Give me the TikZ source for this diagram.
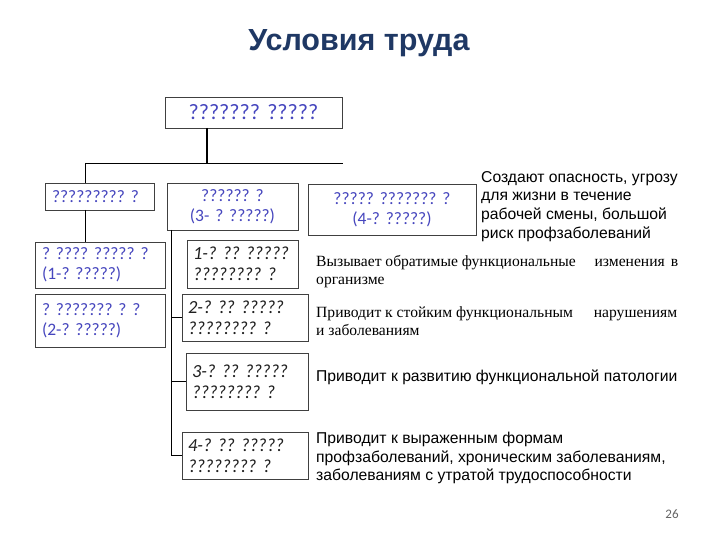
\documentclass[tikz,border=0pt]{standalone}
\usepackage{fontspec}
\setmainfont{Carlito}
\newfontfamily\arialf{Liberation Sans}
\newfontfamily\timesf{Liberation Serif}
\newfontfamily\calf{Carlito}
\definecolor{titleblue}{RGB}{31,56,100}
\definecolor{boxtext}{RGB}{70,70,190}
\definecolor{boxline}{RGB}{64,64,64}
\definecolor{pggray}{RGB}{100,100,100}
\frenchspacing
\begin{document}
\begin{tikzpicture}[x=1pt,y=-1pt,
  box/.style={draw=boxline, line width=0.9pt, anchor=north west, inner ysep=0pt, inner xsep=7pt, outer sep=0pt},
  bluebox/.style={box, text=boxtext, font=\calf\frenchspacing\fontsize{17.5}{20}\selectfont},
  classbox/.style={box, inner xsep=6pt, text=black!88, font=\calf\frenchspacing\itshape\fontsize{18.5}{21}\selectfont, align=left},
  conn/.style={draw=black, line width=0.9pt},
  thickconn/.style={draw=black, line width=2.4pt},
  sanstext/.style={anchor=north west, inner sep=0pt, align=left, font=\arialf\fontsize{15.7}{18.7}\selectfont},
  seriftext/.style={anchor=north west, inner sep=0pt, align=left, font=\timesf\fontsize{15.6}{18}\selectfont}
]
\useasboundingbox[fill=white] (0,0) rectangle (720,540);

\node[font=\arialf\bfseries\fontsize{30.5}{34}\selectfont, text=titleblue] (title) at (359,43) {Условия труда};

% boxes
\node[bluebox, font=\calf\frenchspacing\fontsize{22}{26}\selectfont, minimum width=177pt, minimum height=31pt, text width=163pt, align=center] (top) at (165,97) {??????? ?????};
\node[bluebox, minimum width=109pt, minimum height=27pt, text width=95pt, align=left] (A) at (45,183) {????????? ?};
\node[bluebox, minimum width=131pt, minimum height=47pt, text width=117pt, align=center] (B) at (167,183) {?????? ?\\(3- ? ?????)};
\node[bluebox, minimum width=168pt, minimum height=51pt, text width=154pt, align=center] (C) at (308,184) {????? ??????? ?\\(4-? ?????)};
\node[bluebox, minimum width=130pt, minimum height=46pt, text width=116pt, align=left] (D) at (35,242) {? ???? ????? ?\\(1-? ?????)};
\node[bluebox, minimum width=130pt, minimum height=53pt, text width=116pt, align=left] (E) at (35,294) {? ??????? ? ?\\(2-? ?????)};

\node[classbox, minimum width=111pt, minimum height=48pt, text width=99pt] (F1) at (187,240) {1-? ?? ?????\\???????? ?};
\node[classbox, minimum width=126pt, minimum height=47pt, text width=114pt] (F2) at (182,294) {2-? ?? ?????\\???????? ?};
\node[classbox, minimum width=122pt, minimum height=57pt, text width=110pt] (F3) at (186,353) {3-? ?? ?????\\???????? ?};
\node[classbox, minimum width=126pt, minimum height=47pt, text width=114pt] (F4) at (182,432) {4-? ?? ?????\\???????? ?};

% connectors
\coordinate (barL) at (85,163);
\coordinate (barR) at (343,163);
\coordinate (barM) at (207,163);
\coordinate (trunk) at (171,458);
\draw[thickconn] (top.south -| barM) -- (barM);
\draw[conn] (barL) -- (barR);
\draw[conn] (barL) -- (A.north -| barL);
\draw[conn] (A.south -| barL) -- (D.north -| barL);
\draw[conn] (B.south -| trunk) -- (trunk |- F4.west) -- (F4.west);
\draw[conn] (trunk |- F2.west) -- (F2.west);
\draw[conn] (trunk |- F3.west) -- (F3.west);

% texts
\node[sanstext] (t0) at (481,171) {Создают опасность, угрозу\\для жизни в течение\\рабочей смены,  большой\\риск профзаболеваний};
\node[seriftext] (t1) at (316,255) {\makebox[362pt][s]{Вызывает обратимые функциональные\hfill изменения\hspace{6pt}в}\\организме};
\node[seriftext] (t2) at (316,306) {\makebox[361pt][s]{Приводит к стойким функциональным\hfill нарушениям}\\и заболеваниям};
\node[sanstext] (t3) at (316,370) {Приводит к развитию функциональной патологии};
\node[sanstext] (t4) at (316,432) {Приводит к выраженным формам\\профзаболеваний, хроническим заболеваниям,\\заболеваниям с утратой трудоспособности};

\node[font=\calf\fontsize{13}{15}\selectfont, text=pggray] (pg) at (672,514) {26};
\end{tikzpicture}
\end{document}
